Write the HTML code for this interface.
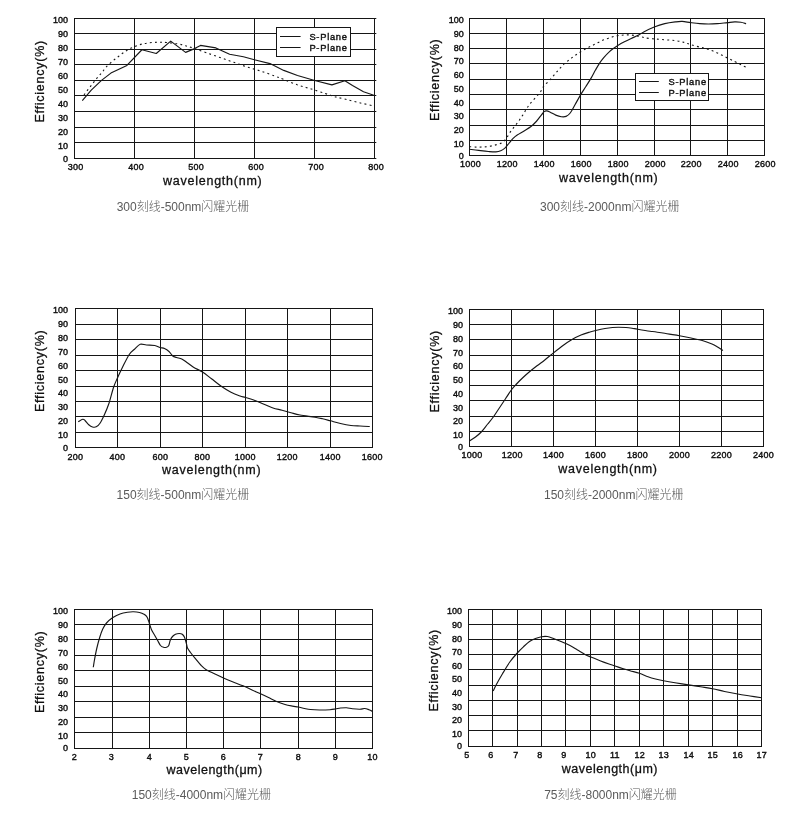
<!DOCTYPE html>
<html lang="zh-CN">
<head>
<meta charset="utf-8">
<title>闪耀光栅 Efficiency Curves</title>
<style>
html,body{margin:0;padding:0;background:#fff;}
body{width:800px;height:819px;overflow:hidden;}
svg{display:block;will-change:transform;}
text{-webkit-font-smoothing:antialiased;}
.grid{fill:none;stroke:#161616;stroke-width:1;}
.cv{fill:none;stroke:#161616;stroke-width:1.15;stroke-linejoin:round;stroke-linecap:butt;}
.dash{stroke-dasharray:1.9 3.2;stroke-width:1.1;}
.xt{letter-spacing:0.25px;}
.lgl{fill:none;stroke:#161616;stroke-width:1;}
.lgbox{fill:#fff;stroke:#161616;stroke-width:1;}
.tk{font-family:"Liberation Sans",sans-serif;font-size:9.0px;fill:#0c0c0c;stroke:#0c0c0c;stroke-width:0.38;}
.lg{font-family:"Liberation Sans",sans-serif;font-size:9.3px;fill:#111;letter-spacing:0.75px;stroke:#111;stroke-width:0.4;}
.ax{font-family:"Liberation Sans",sans-serif;font-size:12.5px;fill:#111;letter-spacing:0.75px;stroke:#111;stroke-width:0.3;}
.um{letter-spacing:0.5px;}
.cap{font-family:"Liberation Sans","Noto Sans CJK SC",sans-serif;font-size:12px;fill:#5a5a5a;font-weight:300;}
</style>
</head>
<body>
<svg width="800" height="819" viewBox="0 0 800 819">
<rect x="0" y="0" width="800" height="819" fill="#ffffff"/>
<g id="chart1">
<path class="grid" d="M74.0 18.5 H376.3 M74.0 33.5 H376.3 M74.0 49.5 H376.3 M74.0 64.5 H376.3 M74.0 80.5 H376.3 M74.0 95.5 H376.3 M74.0 111.5 H376.3 M74.0 127.5 H376.3 M74.0 142.5 H376.3 M74.0 158.5 H376.3 M74.5 18.0 V159.0 M134.5 18.0 V159.0 M194.5 18.0 V159.0 M254.5 18.0 V159.0 M314.5 18.0 V159.0 M374.5 18.0 V159.0"/>
<text class="tk" text-anchor="end" x="68.0" y="23.03">100</text>
<text class="tk" text-anchor="end" x="68.0" y="37.08">90</text>
<text class="tk" text-anchor="end" x="68.0" y="51.13">80</text>
<text class="tk" text-anchor="end" x="68.0" y="65.17">70</text>
<text class="tk" text-anchor="end" x="68.0" y="79.22">60</text>
<text class="tk" text-anchor="end" x="68.0" y="93.27">50</text>
<text class="tk" text-anchor="end" x="68.0" y="107.33">40</text>
<text class="tk" text-anchor="end" x="68.0" y="121.38">30</text>
<text class="tk" text-anchor="end" x="68.0" y="135.43">20</text>
<text class="tk" text-anchor="end" x="68.0" y="149.47">10</text>
<text class="tk" text-anchor="end" x="68.0" y="161.62">0</text>
<text class="tk xt" text-anchor="middle" x="75.6" y="170.42">300</text>
<text class="tk xt" text-anchor="middle" x="136.1" y="170.42">400</text>
<text class="tk xt" text-anchor="middle" x="196.1" y="170.42">500</text>
<text class="tk xt" text-anchor="middle" x="256.1" y="170.42">600</text>
<text class="tk xt" text-anchor="middle" x="316.1" y="170.42">700</text>
<text class="tk xt" text-anchor="middle" x="376.1" y="170.42">800</text>
<text class="ax" text-anchor="middle" x="212.75" y="184.70">wavelength(nm)</text>
<text class="ax" text-anchor="middle" transform="translate(44.10 81.30) rotate(-90)">Efficiency(%)</text>
<text class="cap" text-anchor="middle" x="183.00" y="210.60">300刻线-500nm闪耀光栅</text>
<path class="cv" d="M82.30 100.60 L91.25 90.20 L101.50 80.40 L110.90 73.10 L126.90 65.40 L141.90 49.75 L156.25 53.50 L170.70 41.10 L185.60 52.40 L194.60 48.60 L200.50 45.40 L215.90 47.90 L229.60 54.30 L243.40 56.80 L254.40 59.80 L270.00 63.60 L283.75 70.40 L297.50 75.50 L314.70 80.50 L331.90 84.90 L344.90 80.75 L352.50 85.60 L363.50 91.75 L373.80 95.20"/>
<path class="cv dash" d="M84.00 95.00 C84.50 94.32 85.98 92.25 87.00 90.90 C88.02 89.55 89.06 88.25 90.10 86.90 C91.14 85.55 92.20 84.16 93.25 82.80 C94.30 81.44 95.36 80.00 96.40 78.75 C97.44 77.50 98.42 76.55 99.50 75.30 C100.58 74.05 101.78 72.65 102.90 71.25 C104.03 69.85 104.65 68.57 106.25 66.90 C107.85 65.23 110.42 63.02 112.50 61.25 C114.58 59.48 116.67 57.88 118.75 56.25 C120.83 54.62 122.92 52.86 125.00 51.50 C127.08 50.14 128.96 49.18 131.25 48.10 C133.54 47.02 136.46 45.77 138.75 45.00 C141.04 44.23 142.71 43.92 145.00 43.50 C147.29 43.08 150.00 42.71 152.50 42.50 C155.00 42.29 157.71 42.25 160.00 42.25 C162.29 42.25 163.35 42.25 166.25 42.50 C169.15 42.75 174.18 43.20 177.40 43.75 C180.62 44.30 182.73 44.99 185.60 45.80 C188.47 46.61 191.17 47.45 194.60 48.60 C198.03 49.75 201.97 51.22 206.20 52.70 C210.43 54.18 215.41 55.90 220.00 57.50 C224.59 59.10 229.17 60.70 233.75 62.30 C238.33 63.90 242.92 65.61 247.50 67.10 C252.08 68.59 256.67 69.75 261.25 71.25 C265.83 72.75 271.25 74.74 275.00 76.10 C278.75 77.46 280.00 77.93 283.75 79.40 C287.50 80.87 292.92 83.30 297.50 84.90 C302.08 86.50 306.67 87.58 311.25 89.00 C315.83 90.42 321.11 92.13 325.00 93.40 C328.89 94.67 331.17 95.62 334.60 96.60 C338.03 97.58 341.47 98.27 345.60 99.30 C349.73 100.33 354.82 101.67 359.40 102.75 C363.98 103.83 370.82 105.29 373.10 105.80"/>
<rect class="lgbox" x="276.5" y="27.5" width="74.0" height="29.0"/>
<path class="lgl" d="M280.0 36.5 H300.6 M280.0 47.5 H300.6"/>
<text class="lg" x="309.4" y="39.75">S-Plane</text>
<text class="lg" x="309.4" y="50.60">P-Plane</text>
</g>
<g id="chart2">
<path class="grid" d="M469.0 18.5 H765.0 M469.0 33.5 H765.0 M469.0 48.5 H765.0 M469.0 63.5 H765.0 M469.0 79.5 H765.0 M469.0 94.5 H765.0 M469.0 109.5 H765.0 M469.0 125.5 H765.0 M469.0 140.5 H765.0 M469.0 155.5 H765.0 M469.5 18.0 V156.0 M506.5 18.0 V156.0 M543.5 18.0 V156.0 M580.5 18.0 V156.0 M617.5 18.0 V156.0 M654.5 18.0 V156.0 M690.5 18.0 V156.0 M727.5 18.0 V156.0 M764.5 18.0 V156.0"/>
<text class="tk" text-anchor="end" x="463.8" y="23.03">100</text>
<text class="tk" text-anchor="end" x="463.8" y="36.77">90</text>
<text class="tk" text-anchor="end" x="463.8" y="50.52">80</text>
<text class="tk" text-anchor="end" x="463.8" y="64.27">70</text>
<text class="tk" text-anchor="end" x="463.8" y="78.02">60</text>
<text class="tk" text-anchor="end" x="463.8" y="91.77">50</text>
<text class="tk" text-anchor="end" x="463.8" y="105.52">40</text>
<text class="tk" text-anchor="end" x="463.8" y="119.27">30</text>
<text class="tk" text-anchor="end" x="463.8" y="133.03">20</text>
<text class="tk" text-anchor="end" x="463.8" y="146.78">10</text>
<text class="tk" text-anchor="end" x="463.8" y="159.12">0</text>
<text class="tk xt" text-anchor="middle" x="470.5" y="167.22">1000</text>
<text class="tk xt" text-anchor="middle" x="507.3" y="167.22">1200</text>
<text class="tk xt" text-anchor="middle" x="544.3" y="167.22">1400</text>
<text class="tk xt" text-anchor="middle" x="581.3" y="167.22">1600</text>
<text class="tk xt" text-anchor="middle" x="618.3" y="167.22">1800</text>
<text class="tk xt" text-anchor="middle" x="655.3" y="167.22">2000</text>
<text class="tk xt" text-anchor="middle" x="691.3" y="167.22">2200</text>
<text class="tk xt" text-anchor="middle" x="728.3" y="167.22">2400</text>
<text class="tk xt" text-anchor="middle" x="765.3" y="167.22">2600</text>
<text class="ax" text-anchor="middle" x="608.75" y="182.10">wavelength(nm)</text>
<text class="ax" text-anchor="middle" transform="translate(439.10 79.80) rotate(-90)">Efficiency(%)</text>
<text class="cap" text-anchor="middle" x="609.70" y="210.90">300刻线-2000nm闪耀光栅</text>
<path class="cv" d="M469.50 149.20 C471.04 149.40 475.60 150.02 478.75 150.40 C481.90 150.78 485.54 151.25 488.40 151.50 C491.26 151.75 493.84 152.02 495.90 151.90 C497.96 151.78 499.25 151.43 500.75 150.80 C502.25 150.17 503.52 149.36 504.90 148.10 C506.27 146.84 507.63 144.87 509.00 143.25 C510.37 141.63 511.73 139.78 513.10 138.40 C514.48 137.03 515.42 136.25 517.25 135.00 C519.08 133.75 521.81 132.32 524.10 130.90 C526.39 129.48 528.93 128.11 531.00 126.50 C533.07 124.89 534.78 123.15 536.50 121.25 C538.22 119.35 540.03 116.71 541.30 115.10 C542.57 113.49 543.18 112.30 544.10 111.60 C545.02 110.90 545.77 110.78 546.80 110.90 C547.82 111.02 548.76 111.60 550.25 112.30 C551.74 113.00 553.92 114.37 555.75 115.10 C557.58 115.83 559.52 116.48 561.25 116.70 C562.98 116.92 564.61 117.02 566.10 116.40 C567.59 115.78 568.72 114.94 570.20 113.00 C571.68 111.06 573.20 107.90 575.00 104.75 C576.80 101.60 579.18 97.14 581.00 94.10 C582.82 91.06 584.17 89.25 585.90 86.50 C587.63 83.75 589.80 80.35 591.40 77.60 C593.00 74.85 594.13 72.42 595.50 70.00 C596.87 67.58 598.23 65.17 599.60 63.10 C600.98 61.03 602.14 59.48 603.75 57.60 C605.36 55.73 607.52 53.45 609.25 51.85 C610.98 50.25 612.68 49.06 614.10 48.00 C615.52 46.94 616.08 46.53 617.80 45.50 C619.52 44.47 622.16 42.98 624.40 41.80 C626.64 40.62 628.97 39.47 631.25 38.40 C633.53 37.33 636.02 36.43 638.10 35.35 C640.18 34.27 641.06 33.29 643.75 31.90 C646.44 30.51 650.75 28.38 654.25 27.00 C657.75 25.62 661.25 24.50 664.75 23.65 C668.25 22.80 672.33 22.27 675.25 21.90 C678.17 21.52 679.68 21.28 682.25 21.40 C684.82 21.52 687.73 22.23 690.65 22.60 C693.57 22.98 696.77 23.42 699.75 23.65 C702.73 23.88 705.58 24.00 708.50 24.00 C711.42 24.00 714.10 23.88 717.25 23.65 C720.40 23.42 724.48 22.89 727.40 22.60 C730.32 22.31 732.50 21.96 734.75 21.90 C737.00 21.84 739.01 21.96 740.90 22.25 C742.79 22.54 745.23 23.42 746.10 23.65"/>
<path class="cv dash" d="M469.50 146.70 C470.58 146.77 473.77 147.05 476.00 147.10 C478.23 147.15 480.61 147.13 482.90 147.00 C485.19 146.87 487.47 146.70 489.75 146.30 C492.03 145.90 494.54 145.22 496.60 144.60 C498.66 143.98 500.49 143.63 502.10 142.60 C503.71 141.57 504.98 140.02 506.25 138.40 C507.52 136.78 508.44 134.73 509.70 132.90 C510.96 131.07 512.32 129.34 513.80 127.40 C515.28 125.46 517.11 123.30 518.60 121.25 C520.09 119.20 521.37 117.27 522.75 115.10 C524.13 112.92 525.52 110.27 526.90 108.20 C528.27 106.13 529.40 104.65 531.00 102.70 C532.60 100.75 534.90 98.33 536.50 96.50 C538.10 94.67 539.43 93.37 540.60 91.70 C541.77 90.03 542.14 88.28 543.50 86.50 C544.86 84.72 546.96 82.95 548.75 81.00 C550.54 79.05 552.52 76.75 554.25 74.80 C555.98 72.85 557.49 71.07 559.10 69.30 C560.71 67.53 562.18 65.80 563.90 64.20 C565.62 62.60 567.57 61.13 569.40 59.70 C571.23 58.27 573.02 56.91 574.90 55.60 C576.77 54.29 578.59 53.12 580.65 51.85 C582.71 50.58 585.01 49.21 587.25 48.00 C589.49 46.79 591.81 45.75 594.10 44.60 C596.39 43.45 598.70 42.13 601.00 41.10 C603.30 40.07 605.61 39.20 607.90 38.40 C610.19 37.60 612.47 36.83 614.75 36.30 C617.03 35.77 619.31 35.43 621.60 35.20 C623.89 34.97 626.20 34.83 628.50 34.90 C630.80 34.97 633.11 35.25 635.40 35.60 C637.69 35.95 640.57 36.60 642.25 37.00 C643.93 37.40 643.50 37.68 645.50 38.00 C647.50 38.32 651.04 38.61 654.25 38.90 C657.46 39.19 661.25 39.47 664.75 39.75 C668.25 40.03 672.04 40.16 675.25 40.60 C678.46 41.04 681.43 41.73 684.00 42.40 C686.57 43.07 688.02 43.87 690.65 44.65 C693.27 45.43 696.77 46.31 699.75 47.10 C702.73 47.89 705.58 48.43 708.50 49.40 C711.42 50.37 714.33 51.59 717.25 52.90 C720.17 54.21 723.08 55.80 726.00 57.25 C728.92 58.70 732.12 60.29 734.75 61.60 C737.38 62.91 739.71 64.07 741.75 65.10 C743.79 66.12 746.12 67.31 747.00 67.75"/>
<rect class="lgbox" x="635.5" y="73.5" width="73.0" height="27.0"/>
<path class="lgl" d="M639.0 81.5 H658.8 M639.0 92.5 H658.8"/>
<text class="lg" x="668.5" y="84.75">S-Plane</text>
<text class="lg" x="668.5" y="95.60">P-Plane</text>
</g>
<g id="chart3">
<path class="grid" d="M75.0 308.5 H373.0 M75.0 324.5 H373.0 M75.0 339.5 H373.0 M75.0 355.5 H373.0 M75.0 370.5 H373.0 M75.0 386.5 H373.0 M75.0 401.5 H373.0 M75.0 416.5 H373.0 M75.0 432.5 H373.0 M75.0 447.5 H373.0 M75.5 308.0 V448.0 M117.5 308.0 V448.0 M160.5 308.0 V448.0 M202.5 308.0 V448.0 M245.5 308.0 V448.0 M287.5 308.0 V448.0 M330.5 308.0 V448.0 M372.5 308.0 V448.0"/>
<text class="tk" text-anchor="end" x="68.0" y="313.03">100</text>
<text class="tk" text-anchor="end" x="68.0" y="326.93">90</text>
<text class="tk" text-anchor="end" x="68.0" y="340.83">80</text>
<text class="tk" text-anchor="end" x="68.0" y="354.73">70</text>
<text class="tk" text-anchor="end" x="68.0" y="368.63">60</text>
<text class="tk" text-anchor="end" x="68.0" y="382.53">50</text>
<text class="tk" text-anchor="end" x="68.0" y="396.43">40</text>
<text class="tk" text-anchor="end" x="68.0" y="410.33">30</text>
<text class="tk" text-anchor="end" x="68.0" y="424.23">20</text>
<text class="tk" text-anchor="end" x="68.0" y="438.13">10</text>
<text class="tk" text-anchor="end" x="68.0" y="451.12">0</text>
<text class="tk xt" text-anchor="middle" x="75.5" y="460.12">200</text>
<text class="tk xt" text-anchor="middle" x="117.3" y="460.12">400</text>
<text class="tk xt" text-anchor="middle" x="160.3" y="460.12">600</text>
<text class="tk xt" text-anchor="middle" x="202.3" y="460.12">800</text>
<text class="tk xt" text-anchor="middle" x="245.3" y="460.12">1000</text>
<text class="tk xt" text-anchor="middle" x="287.3" y="460.12">1200</text>
<text class="tk xt" text-anchor="middle" x="330.3" y="460.12">1400</text>
<text class="tk xt" text-anchor="middle" x="372.3" y="460.12">1600</text>
<text class="ax" text-anchor="middle" x="211.70" y="474.40">wavelength(nm)</text>
<text class="ax" text-anchor="middle" transform="translate(44.10 370.80) rotate(-90)">Efficiency(%)</text>
<text class="cap" text-anchor="middle" x="182.90" y="498.90">150刻线-500nm闪耀光栅</text>
<path class="cv" d="M78.25 421.70 C79.00 421.30 81.62 419.50 82.75 419.30 C83.88 419.10 84.00 419.60 85.00 420.50 C86.00 421.40 87.50 423.62 88.75 424.70 C90.00 425.77 91.25 426.60 92.50 426.95 C93.75 427.30 95.00 427.43 96.25 426.80 C97.50 426.18 98.62 425.25 100.00 423.20 C101.38 421.15 103.00 417.82 104.50 414.50 C106.00 411.18 107.50 407.75 109.00 403.25 C110.50 398.75 112.08 391.75 113.50 387.50 C114.92 383.25 116.05 381.12 117.55 377.75 C119.05 374.38 120.55 371.12 122.50 367.25 C124.45 363.38 127.25 357.50 129.25 354.50 C131.25 351.50 132.68 350.95 134.50 349.25 C136.32 347.55 138.20 345.00 140.20 344.30 C142.20 343.60 144.07 344.85 146.50 345.05 C148.93 345.25 152.50 345.10 154.75 345.50 C157.00 345.90 158.38 346.95 160.00 347.45 C161.62 347.95 163.00 347.82 164.50 348.50 C166.00 349.18 167.62 350.25 169.00 351.50 C170.38 352.75 171.50 355.00 172.75 356.00 C174.00 357.00 175.00 357.00 176.50 357.50 C178.00 358.00 180.17 358.28 181.75 359.00 C183.33 359.72 184.04 360.43 186.00 361.80 C187.96 363.17 190.75 365.50 193.50 367.20 C196.25 368.90 199.50 370.07 202.50 372.00 C205.50 373.93 208.38 376.38 211.50 378.75 C214.62 381.12 218.00 384.00 221.25 386.25 C224.50 388.50 227.88 390.62 231.00 392.25 C234.12 393.88 237.57 395.12 240.00 396.00 C242.43 396.88 243.05 396.75 245.55 397.50 C248.05 398.25 251.93 399.38 255.00 400.50 C258.07 401.62 261.00 403.00 264.00 404.25 C267.00 405.50 270.00 407.00 273.00 408.00 C276.00 409.00 279.00 409.45 282.00 410.25 C285.00 411.05 288.00 412.00 291.00 412.80 C294.00 413.60 296.00 414.32 300.00 415.05 C304.00 415.78 311.25 416.59 315.00 417.20 C318.75 417.81 319.93 418.10 322.50 418.70 C325.07 419.30 327.45 420.00 330.45 420.80 C333.45 421.60 337.07 422.73 340.50 423.50 C343.93 424.27 347.75 425.02 351.00 425.45 C354.25 425.88 356.88 425.88 360.00 426.05 C363.12 426.23 368.12 426.43 369.75 426.50"/>
</g>
<g id="chart4">
<path class="grid" d="M469.0 309.5 H764.0 M469.0 324.5 H764.0 M469.0 339.5 H764.0 M469.0 355.5 H764.0 M469.0 370.5 H764.0 M469.0 385.5 H764.0 M469.0 400.5 H764.0 M469.0 416.5 H764.0 M469.0 431.5 H764.0 M469.0 446.5 H764.0 M469.5 309.0 V447.0 M511.5 309.0 V447.0 M553.5 309.0 V447.0 M595.5 309.0 V447.0 M637.5 309.0 V447.0 M679.5 309.0 V447.0 M721.5 309.0 V447.0 M763.5 309.0 V447.0"/>
<text class="tk" text-anchor="end" x="463.0" y="314.33">100</text>
<text class="tk" text-anchor="end" x="463.0" y="328.08">90</text>
<text class="tk" text-anchor="end" x="463.0" y="341.83">80</text>
<text class="tk" text-anchor="end" x="463.0" y="355.58">70</text>
<text class="tk" text-anchor="end" x="463.0" y="369.33">60</text>
<text class="tk" text-anchor="end" x="463.0" y="383.08">50</text>
<text class="tk" text-anchor="end" x="463.0" y="396.83">40</text>
<text class="tk" text-anchor="end" x="463.0" y="410.58">30</text>
<text class="tk" text-anchor="end" x="463.0" y="424.33">20</text>
<text class="tk" text-anchor="end" x="463.0" y="438.08">10</text>
<text class="tk" text-anchor="end" x="463.0" y="450.12">0</text>
<text class="tk xt" text-anchor="middle" x="471.9" y="458.23">1000</text>
<text class="tk xt" text-anchor="middle" x="512.3" y="458.23">1200</text>
<text class="tk xt" text-anchor="middle" x="553.5" y="458.23">1400</text>
<text class="tk xt" text-anchor="middle" x="595.5" y="458.23">1600</text>
<text class="tk xt" text-anchor="middle" x="637.5" y="458.23">1800</text>
<text class="tk xt" text-anchor="middle" x="679.5" y="458.23">2000</text>
<text class="tk xt" text-anchor="middle" x="721.5" y="458.23">2200</text>
<text class="tk xt" text-anchor="middle" x="763.5" y="458.23">2400</text>
<text class="ax" text-anchor="middle" x="608.00" y="472.50">wavelength(nm)</text>
<text class="ax" text-anchor="middle" transform="translate(439.10 371.30) rotate(-90)">Efficiency(%)</text>
<text class="cap" text-anchor="middle" x="613.70" y="498.90">150刻线-2000nm闪耀光栅</text>
<path class="cv" d="M469.80 440.75 C470.75 440.12 473.55 438.50 475.50 437.00 C477.45 435.50 479.50 433.88 481.50 431.75 C483.50 429.62 485.50 426.75 487.50 424.25 C489.50 421.75 491.50 419.50 493.50 416.75 C495.50 414.00 497.50 410.75 499.50 407.75 C501.50 404.75 503.50 401.75 505.50 398.75 C507.50 395.75 509.62 392.25 511.50 389.75 C513.38 387.25 514.88 385.75 516.75 383.75 C518.62 381.75 520.62 379.75 522.75 377.75 C524.88 375.75 527.12 373.75 529.50 371.75 C531.88 369.75 534.50 367.68 537.00 365.75 C539.50 363.82 542.12 362.04 544.50 360.20 C546.88 358.36 548.17 357.15 551.25 354.70 C554.33 352.25 559.54 348.03 563.00 345.50 C566.46 342.97 569.00 341.25 572.00 339.50 C575.00 337.75 578.00 336.25 581.00 335.00 C584.00 333.75 587.55 332.75 590.00 332.00 C592.45 331.25 593.20 331.07 595.70 330.50 C598.20 329.93 602.20 329.05 605.00 328.55 C607.80 328.05 610.25 327.73 612.50 327.50 C614.75 327.27 616.25 327.20 618.50 327.20 C620.75 327.20 623.75 327.32 626.00 327.50 C628.25 327.68 630.05 327.95 632.00 328.25 C633.95 328.55 634.70 328.80 637.70 329.30 C640.70 329.80 647.12 330.85 650.00 331.25 C652.88 331.65 652.17 331.27 655.00 331.70 C657.83 332.12 662.92 333.12 667.00 333.80 C671.08 334.48 675.45 335.05 679.45 335.75 C683.45 336.45 687.08 337.18 691.00 338.00 C694.92 338.82 699.50 339.70 703.00 340.70 C706.50 341.70 709.50 342.90 712.00 344.00 C714.50 345.10 716.17 346.23 718.00 347.30 C719.83 348.38 722.12 349.93 722.95 350.45"/>
</g>
<g id="chart5">
<path class="grid" d="M74.0 609.5 H373.0 M74.0 624.5 H373.0 M74.0 639.5 H373.0 M74.0 655.5 H373.0 M74.0 670.5 H373.0 M74.0 686.5 H373.0 M74.0 701.5 H373.0 M74.0 717.5 H373.0 M74.0 732.5 H373.0 M74.0 748.5 H373.0 M74.5 609.0 V749.0 M112.5 609.0 V749.0 M149.5 609.0 V749.0 M186.5 609.0 V749.0 M223.5 609.0 V749.0 M260.5 609.0 V749.0 M298.5 609.0 V749.0 M335.5 609.0 V749.0 M372.5 609.0 V749.0"/>
<text class="tk" text-anchor="end" x="68.0" y="614.33">100</text>
<text class="tk" text-anchor="end" x="68.0" y="628.18">90</text>
<text class="tk" text-anchor="end" x="68.0" y="642.03">80</text>
<text class="tk" text-anchor="end" x="68.0" y="655.88">70</text>
<text class="tk" text-anchor="end" x="68.0" y="669.73">60</text>
<text class="tk" text-anchor="end" x="68.0" y="683.58">50</text>
<text class="tk" text-anchor="end" x="68.0" y="697.43">40</text>
<text class="tk" text-anchor="end" x="68.0" y="711.28">30</text>
<text class="tk" text-anchor="end" x="68.0" y="725.12">20</text>
<text class="tk" text-anchor="end" x="68.0" y="738.98">10</text>
<text class="tk" text-anchor="end" x="68.0" y="751.12">0</text>
<text class="tk xt" text-anchor="middle" x="74.5" y="760.23">2</text>
<text class="tk xt" text-anchor="middle" x="111.3" y="760.23">3</text>
<text class="tk xt" text-anchor="middle" x="149.5" y="760.23">4</text>
<text class="tk xt" text-anchor="middle" x="186.5" y="760.23">5</text>
<text class="tk xt" text-anchor="middle" x="223.5" y="760.23">6</text>
<text class="tk xt" text-anchor="middle" x="260.5" y="760.23">7</text>
<text class="tk xt" text-anchor="middle" x="298.5" y="760.23">8</text>
<text class="tk xt" text-anchor="middle" x="335.5" y="760.23">9</text>
<text class="tk xt" text-anchor="middle" x="372.5" y="760.23">10</text>
<text class="ax um" text-anchor="middle" x="214.60" y="774.30">wavelength(μm)</text>
<text class="ax" text-anchor="middle" transform="translate(44.10 671.80) rotate(-90)">Efficiency(%)</text>
<text class="cap" text-anchor="middle" x="201.40" y="798.90">150刻线-4000nm闪耀光栅</text>
<path class="cv" d="M93.30 667.25 C93.50 666.00 93.92 662.88 94.50 659.75 C95.08 656.62 95.88 652.25 96.75 648.50 C97.62 644.75 98.75 640.50 99.75 637.25 C100.75 634.00 101.62 631.38 102.75 629.00 C103.88 626.62 104.88 624.88 106.50 623.00 C108.12 621.12 110.25 619.25 112.50 617.75 C114.75 616.25 117.50 614.92 120.00 614.00 C122.50 613.08 125.25 612.58 127.50 612.20 C129.75 611.83 131.50 611.70 133.50 611.75 C135.50 611.80 137.75 612.08 139.50 612.50 C141.25 612.92 142.75 613.55 144.00 614.30 C145.25 615.05 146.12 615.55 147.00 617.00 C147.88 618.45 148.50 620.88 149.25 623.00 C150.00 625.12 150.62 627.75 151.50 629.75 C152.38 631.75 153.50 633.25 154.50 635.00 C155.50 636.75 156.50 638.50 157.50 640.25 C158.50 642.00 159.50 644.33 160.50 645.50 C161.50 646.67 162.50 647.00 163.50 647.30 C164.50 647.60 165.62 647.60 166.50 647.30 C167.38 647.00 168.12 646.67 168.75 645.50 C169.38 644.33 169.62 641.75 170.25 640.25 C170.88 638.75 171.62 637.50 172.50 636.50 C173.38 635.50 174.38 634.75 175.50 634.25 C176.62 633.75 178.12 633.50 179.25 633.50 C180.38 633.50 181.38 633.62 182.25 634.25 C183.12 634.88 183.81 635.71 184.50 637.25 C185.19 638.79 185.90 641.71 186.40 643.50 C186.90 645.29 186.82 646.50 187.50 648.00 C188.18 649.50 189.25 650.80 190.50 652.50 C191.75 654.20 193.25 656.08 195.00 658.20 C196.75 660.33 199.12 663.33 201.00 665.25 C202.88 667.17 204.00 668.33 206.25 669.75 C208.50 671.17 211.62 672.42 214.50 673.80 C217.38 675.17 220.50 676.67 223.50 678.00 C226.50 679.33 229.25 680.45 232.50 681.75 C235.75 683.05 239.75 684.42 243.00 685.80 C246.25 687.17 249.07 688.67 252.00 690.00 C254.93 691.33 257.80 692.50 260.55 693.75 C263.30 695.00 265.93 696.25 268.50 697.50 C271.07 698.75 273.25 700.08 276.00 701.25 C278.75 702.42 282.25 703.68 285.00 704.50 C287.75 705.32 290.30 705.73 292.50 706.15 C294.70 706.57 296.20 706.61 298.20 707.00 C300.20 707.39 302.45 708.08 304.50 708.50 C306.55 708.92 308.00 709.30 310.50 709.55 C313.00 709.80 316.25 709.98 319.50 710.00 C322.75 710.02 327.32 709.88 330.00 709.70 C332.68 709.53 333.80 709.23 335.55 708.95 C337.30 708.68 338.68 708.25 340.50 708.05 C342.32 707.85 344.50 707.62 346.50 707.75 C348.50 707.88 350.25 708.55 352.50 708.80 C354.75 709.05 358.00 709.30 360.00 709.25 C362.00 709.20 363.00 708.42 364.50 708.50 C366.00 708.58 367.62 709.20 369.00 709.70 C370.38 710.20 372.12 711.20 372.75 711.50"/>
</g>
<g id="chart6">
<path class="grid" d="M468.0 609.5 H762.0 M468.0 624.5 H762.0 M468.0 639.5 H762.0 M468.0 654.5 H762.0 M468.0 669.5 H762.0 M468.0 685.5 H762.0 M468.0 700.5 H762.0 M468.0 715.5 H762.0 M468.0 730.5 H762.0 M468.0 746.5 H762.0 M468.5 609.0 V747.0 M492.5 609.0 V747.0 M517.5 609.0 V747.0 M541.5 609.0 V747.0 M565.5 609.0 V747.0 M590.5 609.0 V747.0 M614.5 609.0 V747.0 M639.5 609.0 V747.0 M663.5 609.0 V747.0 M688.5 609.0 V747.0 M712.5 609.0 V747.0 M737.5 609.0 V747.0 M761.5 609.0 V747.0"/>
<text class="tk" text-anchor="end" x="462.0" y="614.33">100</text>
<text class="tk" text-anchor="end" x="462.0" y="627.96">90</text>
<text class="tk" text-anchor="end" x="462.0" y="641.59">80</text>
<text class="tk" text-anchor="end" x="462.0" y="655.22">70</text>
<text class="tk" text-anchor="end" x="462.0" y="668.85">60</text>
<text class="tk" text-anchor="end" x="462.0" y="682.48">50</text>
<text class="tk" text-anchor="end" x="462.0" y="696.11">40</text>
<text class="tk" text-anchor="end" x="462.0" y="709.74">30</text>
<text class="tk" text-anchor="end" x="462.0" y="723.37">20</text>
<text class="tk" text-anchor="end" x="462.0" y="737.00">10</text>
<text class="tk" text-anchor="end" x="462.0" y="749.33">0</text>
<text class="tk xt" text-anchor="middle" x="467.0" y="758.23">5</text>
<text class="tk xt" text-anchor="middle" x="491.0" y="758.23">6</text>
<text class="tk xt" text-anchor="middle" x="516.0" y="758.23">7</text>
<text class="tk xt" text-anchor="middle" x="540.0" y="758.23">8</text>
<text class="tk xt" text-anchor="middle" x="564.0" y="758.23">9</text>
<text class="tk xt" text-anchor="middle" x="590.8" y="758.23">10</text>
<text class="tk xt" text-anchor="middle" x="614.8" y="758.23">11</text>
<text class="tk xt" text-anchor="middle" x="639.8" y="758.23">12</text>
<text class="tk xt" text-anchor="middle" x="663.8" y="758.23">13</text>
<text class="tk xt" text-anchor="middle" x="688.8" y="758.23">14</text>
<text class="tk xt" text-anchor="middle" x="712.8" y="758.23">15</text>
<text class="tk xt" text-anchor="middle" x="737.8" y="758.23">16</text>
<text class="tk xt" text-anchor="middle" x="761.8" y="758.23">17</text>
<text class="ax um" text-anchor="middle" x="609.90" y="772.50">wavelength(μm)</text>
<text class="ax" text-anchor="middle" transform="translate(438.30 670.30) rotate(-90)">Efficiency(%)</text>
<text class="cap" text-anchor="middle" x="610.50" y="798.90">75刻线-8000nm闪耀光栅</text>
<path class="cv" d="M493.20 691.00 C493.75 689.88 494.95 687.12 496.50 684.25 C498.05 681.38 500.25 677.50 502.50 673.75 C504.75 670.00 507.50 665.25 510.00 661.75 C512.50 658.25 515.25 655.25 517.50 652.75 C519.75 650.25 521.50 648.62 523.50 646.75 C525.50 644.88 527.50 642.88 529.50 641.50 C531.50 640.12 533.50 639.30 535.50 638.50 C537.50 637.70 539.50 637.03 541.50 636.70 C543.50 636.38 545.50 636.25 547.50 636.55 C549.50 636.85 551.25 637.67 553.50 638.50 C555.75 639.33 558.25 640.32 561.00 641.50 C563.75 642.68 567.25 644.18 570.00 645.60 C572.75 647.02 575.00 648.53 577.50 650.00 C580.00 651.47 582.88 653.27 585.00 654.40 C587.12 655.53 587.75 655.75 590.25 656.80 C592.75 657.85 596.88 659.50 600.00 660.70 C603.12 661.90 606.58 663.15 609.00 664.00 C611.42 664.85 612.30 665.05 614.55 665.80 C616.80 666.55 619.92 667.67 622.50 668.50 C625.08 669.33 627.17 669.95 630.00 670.75 C632.83 671.55 636.45 672.30 639.45 673.30 C642.45 674.30 645.33 675.80 648.00 676.75 C650.67 677.70 652.92 678.34 655.50 679.00 C658.08 679.66 660.25 680.08 663.50 680.70 C666.75 681.33 670.83 682.06 675.00 682.75 C679.17 683.44 684.25 684.18 688.50 684.85 C692.75 685.52 696.50 686.15 700.50 686.80 C704.50 687.45 708.50 687.98 712.50 688.75 C716.50 689.52 720.30 690.58 724.50 691.45 C728.70 692.33 733.45 693.25 737.70 694.00 C741.95 694.75 746.00 695.33 750.00 695.95 C754.00 696.58 759.75 697.45 761.70 697.75"/>
</g>
</svg>
</body>
</html>
